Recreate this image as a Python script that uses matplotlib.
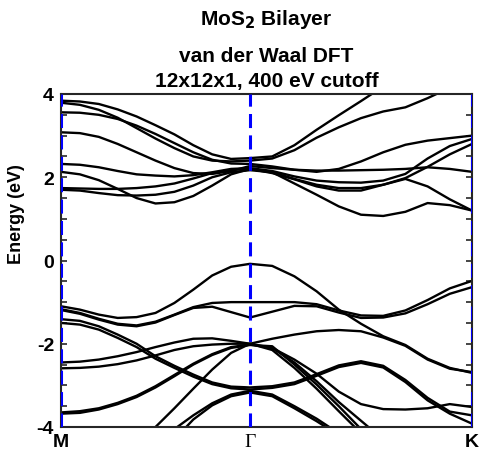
import numpy as np
import matplotlib
matplotlib.use("Agg")
import matplotlib.pyplot as plt
from matplotlib.ticker import MultipleLocator

# ---- data -------------------------------------------------------------
k_labels = ["M", "\u0393", "K"]
k_nodes = [0.0, 1.0, 2.1746]
# sampling grid: 10 steps M->Gamma, 10 steps Gamma->K
k_path = [0.0, 0.1, 0.2, 0.3, 0.4, 0.5, 0.6, 0.7, 0.8, 0.9, 1.0,
          1.1175, 1.2349, 1.3524, 1.4698, 1.5873, 1.7048, 1.8222, 1.9397, 2.0571, 2.1746]

# conduction bands (eV)
cb1 = [3.84, 3.82, 3.76, 3.63, 3.46, 3.25, 3.03, 2.77, 2.55, 2.44, 2.46,
       2.50, 2.77, 3.14, 3.49, 3.83, 4.18, 4.50, 4.75, 4.90, 4.95]
cb2 = [3.79, 3.74, 3.62, 3.43, 3.18, 2.93, 2.70, 2.50, 2.40, 2.38, 2.40,
       2.45, 2.65, 2.95, 3.20, 3.42, 3.58, 3.68, 3.90, 4.15, 4.40]
cb3 = [3.56, 3.55, 3.50, 3.40, 3.24, 3.04, 2.82, 2.60, 2.42, 2.33, 2.32,
       2.26, 2.18, 2.13, 2.20, 2.38, 2.60, 2.78, 2.88, 2.94, 3.00]
cb4 = [3.08, 3.06, 2.97, 2.80, 2.60, 2.40, 2.22, 2.10, 2.08, 2.15, 2.27,
       2.22, 2.18, 2.16, 2.16, 2.17, 2.18, 2.20, 2.24, 2.20, 2.13]
cb5 = [2.32, 2.30, 2.24, 2.15, 2.07, 2.04, 2.02, 2.05, 2.12, 2.20, 2.22,
       2.15, 2.02, 1.92, 1.88, 1.87, 1.92, 2.08, 2.45, 2.75, 2.92]
cb6 = [2.13, 2.07, 1.93, 1.72, 1.50, 1.37, 1.40, 1.55, 1.80, 2.07, 2.20,
       2.12, 1.96, 1.82, 1.74, 1.74, 1.82, 1.98, 2.25, 2.55, 2.80]
cb7 = [1.74, 1.73, 1.72, 1.72, 1.74, 1.78, 1.85, 1.97, 2.10, 2.18, 2.20,
       2.10, 1.95, 1.78, 1.68, 1.68, 1.82, 1.96, 1.78, 1.47, 1.20]
cb8 = [1.70, 1.68, 1.62, 1.57, 1.56, 1.58, 1.65, 1.80, 2.00, 2.12, 2.17,
       2.12, 1.85, 1.58, 1.30, 1.10, 1.07, 1.17, 1.38, 1.33, 1.20]

# valence bands (eV)
vb1 = [-1.10, -1.18, -1.30, -1.38, -1.36, -1.26, -1.02, -0.70, -0.36, -0.15, -0.08,
       -0.13, -0.38, -0.74, -1.18, -1.52, -1.82, -2.03, -2.36, -2.58, -2.70]
vb2 = [-1.17, -1.26, -1.40, -1.52, -1.56, -1.47, -1.30, -1.12, -1.02, -1.00, -1.00,
       -1.00, -1.00, -1.05, -1.20, -1.32, -1.33, -1.20, -0.95, -0.67, -0.49]
vb3 = [-1.19, -1.28, -1.42, -1.54, -1.58, -1.49, -1.31, -1.14, -1.11, -1.24, -1.37,
       -1.23, -1.09, -1.10, -1.25, -1.38, -1.37, -1.27, -1.05, -0.80, -0.64]
vb4 = [-1.41, -1.45, -1.58, -1.78, -2.00, -2.30, -2.53, -2.74, -2.93, -3.03, -3.05,
       -3.02, -2.93, -2.73, -2.52, -2.42, -2.53, -2.87, -3.30, -3.63, -3.72]
vb5 = [-1.50, -1.54, -1.66, -1.86, -2.08, -2.36, -2.58, -2.79, -2.97, -3.07, -3.10,
       -3.06, -2.97, -2.77, -2.56, -2.46, -2.57, -2.92, -3.36, -3.68, -3.92]
vb6 = [-2.45, -2.43, -2.38, -2.30, -2.20, -2.08, -1.97, -1.88, -1.87, -1.93, -2.00,
       -1.88, -1.78, -1.70, -1.67, -1.70, -1.85, -2.05, -2.38, -2.60, -2.68]
vb7 = [-2.59, -2.58, -2.55, -2.49, -2.40, -2.28, -2.15, -2.06, -2.02, -2.00, -2.00,
       -2.10, -2.38, -2.72, -3.15, -3.45, -3.57, -3.58, -3.55, -3.45, -3.52]
vb8 = [-3.65, -3.62, -3.55, -3.42, -3.25, -3.02, -2.75, -2.48, -2.25, -2.08, -2.02,
       -2.10, -2.45, -2.90, -3.40, -3.85, -4.30, -4.60, -4.80, -5.00, -5.00]
vb9 = [-3.68, -3.66, -3.58, -3.45, -3.28, -3.05, -2.78, -2.50, -2.27, -2.10, -2.03,
       -2.06, -2.50, -2.98, -3.50, -4.05, -4.40, -4.70, -4.90, -5.00, -5.00]
vb10 = [-6.00, -5.60, -5.20, -4.80, -4.40, -4.00, -3.55, -3.08, -2.62, -2.22, -2.00,
        -2.15, -2.58, -3.08, -3.62, -4.15, -4.50, -4.80, -5.00, -5.10, -5.20]
vb11 = [-6.00, -5.80, -5.50, -5.20, -4.90, -4.45, -4.05, -3.72, -3.43, -3.22, -3.13,
        -3.22, -3.50, -3.80, -4.15, -4.50, -4.80, -5.00, -5.10, -5.20, -5.20]
vb12 = [-6.00, -5.80, -5.50, -5.20, -4.95, -4.65, -4.30, -3.82, -3.48, -3.26, -3.17,
        -3.26, -3.55, -3.86, -4.20, -4.55, -4.85, -5.05, -5.15, -5.25, -5.25]

bands = [cb1, cb2, cb3, cb4, cb5, cb6, cb7, cb8,
         vb1, vb2, vb3, vb4, vb5, vb6, vb7, vb8, vb9, vb10, vb11, vb12]

# ---- figure -------------------------------------------------------------
W, H = 482, 460
fig = plt.figure(figsize=(W / 100, H / 100), dpi=100)
ax = fig.add_axes([61 / W, 1 - 428 / H, (472 - 61) / W, (428 - 95) / H])

for b in bands:
    ax.plot(k_path, b, color="black", lw=1.7, solid_joinstyle="round",
            solid_capstyle="round", zorder=2)

for kn in k_nodes:
    ax.axvline(kn, color="#0000ff", lw=2.2, ls=(0, (4.6, 2.4)), zorder=3)

ax.set_xlim(k_nodes[0], k_nodes[-1])
ax.set_ylim(-4, 4)
ax.set_xticks(k_nodes)
ax.set_xticklabels(k_labels)
for lab, fam in zip(ax.get_xticklabels(), ["Liberation Sans", "Liberation Serif", "Liberation Sans"]):
    lab.set_fontfamily(fam)
    lab.set_fontweight("normal" if fam == "Liberation Serif" else "bold")
    lab.set_fontsize(14)
ax.yaxis.set_major_locator(MultipleLocator(2))
ax.yaxis.set_minor_locator(MultipleLocator(0.5))
ax.set_yticks([-4, -2, 0, 2, 4])
ax.set_yticklabels(["-4", "-2", "0", "2", "4"], fontfamily="Liberation Sans",
                   fontweight="bold", fontsize=14)
ax.tick_params(axis="y", which="both", direction="in", left=True, right=True,
               length=4, width=1.2, colors="#262626", pad=5)
ax.tick_params(axis="y", which="major", labelcolor="black")
ax.tick_params(axis="x", which="both", length=0, pad=4, labelcolor="black")
ax.set_ylabel("Energy (eV)", fontfamily="Liberation Sans", fontweight="bold",
              fontsize=13)
ax.yaxis.set_label_coords(-0.088, 0.643)
for s in ax.spines.values():
    s.set_linewidth(1.5)
    s.set_color("#262626")

# titles
xc = (61 + 472) / 2 / W
fig.text(xc, 1 - 25 / H, "MoS$_\\mathbf{2}$ Bilayer", ha="center",
         va="baseline", fontfamily="Liberation Sans", fontweight="bold", fontsize=15)
fig.text(xc, 1 - 62 / H, "van der Waal DFT", ha="center",
         va="baseline", fontfamily="Liberation Sans", fontweight="bold", fontsize=15)
fig.text(xc, 1 - 87 / H, "12x12x1, 400 eV cutoff", ha="center",
         va="baseline", fontfamily="Liberation Sans", fontweight="bold", fontsize=15)

fig.savefig("out.png", dpi=100)
